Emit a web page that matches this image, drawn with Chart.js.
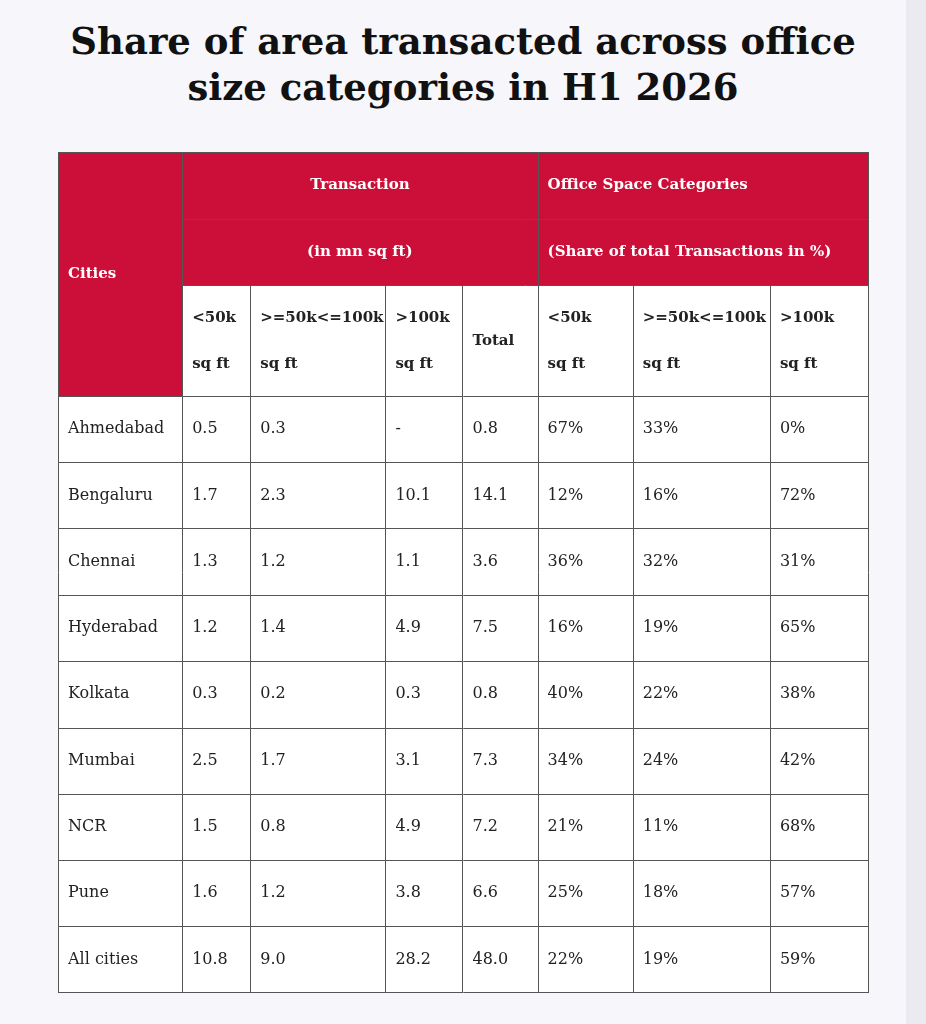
<!DOCTYPE html>
<html>
<head>
<meta charset="utf-8">
<script src="https://cdn.jsdelivr.net/npm/chart.js@4"></script>
<style>
  body { margin: 0; background: #f7f6fb; width: 926px; height: 1024px; position: relative; overflow: hidden; }
  #strip { position: absolute; left: 906px; top: 0; width: 20px; height: 1024px; background: #ebeaf0; }
  h1 { position: absolute; top: 18px; left: 0; width: 926px; margin: 0; text-align: center;
       font: bold 37px/46px "DejaVu Serif", serif; color: #111; }
  #wrap { position: absolute; left: 58px; top: 152px; width: 811px; height: 841px; }
</style>
</head>
<body>
<div id="strip"></div>
<h1>Share of area transacted across office<br>size categories in H1 2026</h1>
<div id="wrap"><canvas id="table"></canvas></div>
<script>
const cities = ["Ahmedabad", "Bengaluru", "Chennai", "Hyderabad", "Kolkata", "Mumbai", "NCR", "Pune", "All cities"];
const under50k = [0.5, 1.7, 1.3, 1.2, 0.3, 2.5, 1.5, 1.6, 10.8];
const from50to100k = [0.3, 2.3, 1.2, 1.4, 0.2, 1.7, 0.8, 1.2, 9.0];
const over100k = [null, 10.1, 1.1, 4.9, 0.3, 3.1, 4.9, 3.8, 28.2];
const totals = [0.8, 14.1, 3.6, 7.5, 0.8, 7.3, 7.2, 6.6, 48.0];
const shareUnder50k = [67, 12, 36, 16, 40, 34, 21, 25, 22];
const shareMid = [33, 16, 32, 19, 22, 24, 11, 18, 19];
const shareOver100k = [0, 72, 31, 65, 38, 42, 68, 57, 59];

// layout in table units (= px of the table box)
const colEdges = [0, 124, 192, 327, 404, 479, 574, 711, 810];
const rowEdges = [0, 67, 133, 244, 310, 376, 442, 508, 575, 641, 707, 773, 840];
const RED = "#cc0f38";
const LINE = "#555";

const tablePlugin = {
  id: "tablePlugin",
  afterDraw: (chart) => {
    const ctx = chart.ctx;
    const xs = chart.scales.x, ys = chart.scales.y;
    const X = (v) => xs.getPixelForValue(v);
    const Y = (v) => ys.getPixelForValue(v);
    const snapX = (v) => Math.min(Math.round(X(v)), chart.width - 1) + 0.5;
    const snapY = (v) => Math.min(Math.round(Y(v)), chart.height - 1) + 0.5;
    const rect = (c0, c1, r0, r1, fill) => {
      ctx.fillStyle = fill;
      ctx.fillRect(X(colEdges[c0]), Y(rowEdges[r0]), X(colEdges[c1]) - X(colEdges[c0]), Y(rowEdges[r1]) - Y(rowEdges[r0]));
    };
    const text = (s, x, y, bold, color, align) => {
      ctx.font = bold ? "bold 15px 'DejaVu Serif', serif" : "16px 'DejaVu Serif', serif";
      ctx.fillStyle = color;
      ctx.textAlign = align || "left";
      ctx.textBaseline = "middle";
      ctx.fillText(s, x, y);
    };
    const hline = (y, c0, c1) => {
      ctx.beginPath(); ctx.moveTo(X(colEdges[c0]), snapY(y)); ctx.lineTo(snapX(colEdges[c1]) + 0.5, snapY(y)); ctx.stroke();
    };
    const vline = (x, r0, r1) => {
      ctx.beginPath(); ctx.moveTo(snapX(x), Y(rowEdges[r0])); ctx.lineTo(snapX(x), snapY(rowEdges[r1]) + 0.5); ctx.stroke();
    };
    ctx.save();
    rect(0, 8, 0, rowEdges.length - 1, "#fff");
    rect(0, 1, 0, 3, RED);
    rect(1, 8, 0, 2, RED);

    ctx.strokeStyle = LINE;
    ctx.lineWidth = 1;
    hline(rowEdges[0], 0, 8);
    hline(rowEdges[1], 1, 8);
    hline(rowEdges[2], 1, 8);
    for (let r = 3; r < rowEdges.length; r++) hline(rowEdges[r], 0, 8);
    vline(colEdges[0], 0, rowEdges.length - 1);
    vline(colEdges[1], 0, rowEdges.length - 1);
    vline(colEdges[5], 0, rowEdges.length - 1);
    vline(colEdges[8], 0, rowEdges.length - 1);
    [2, 3, 4, 6, 7].forEach((c) => vline(colEdges[c], 2, rowEdges.length - 1));

    const mid = (r0, r1) => Y((rowEdges[r0] + rowEdges[r1]) / 2);
    const left = (c) => X(colEdges[c]) + 10;
    text("Cities", left(0), mid(0, 3), true, "#fff");
    text("Transaction", (X(colEdges[1]) + X(colEdges[5])) / 2, mid(0, 1), true, "#fff", "center");
    text("(in mn sq ft)", (X(colEdges[1]) + X(colEdges[5])) / 2, mid(1, 2), true, "#fff", "center");
    text("Office Space Categories", left(5), mid(0, 1), true, "#fff");
    text("(Share of total Transactions in %)", left(5), mid(1, 2), true, "#fff");

    const subTop = ["<50k", ">=50k<=100k", ">100k", null, "<50k", ">=50k<=100k", ">100k"];
    subTop.forEach((s, i) => {
      const c = i + 1;
      if (s === null) {
        text("Total", left(c), mid(2, 3), true, "#222");
      } else {
        text(s, left(c), Y(rowEdges[2] + 33), true, "#222");
        text("sq ft", left(c), Y(rowEdges[2] + 79), true, "#222");
      }
    });

    const fmt = (v) => (v === null ? "-" : v.toFixed(1));
    cities.forEach((city, i) => {
      const y = mid(3 + i, 4 + i);
      const cells = [city, fmt(under50k[i]), fmt(from50to100k[i]), fmt(over100k[i]), fmt(totals[i]),
        shareUnder50k[i] + "%", shareMid[i] + "%", shareOver100k[i] + "%"];
      cells.forEach((s, c) => text(s, left(c), y, false, "#222"));
    });
    ctx.restore();
  },
};

new Chart(document.getElementById("table"), {
  type: "scatter",
  data: { datasets: [{ data: [] }] },
  options: {
    responsive: true,
    maintainAspectRatio: false,
    animation: false,
    layout: { padding: 0 },
    plugins: { legend: { display: false }, tooltip: { enabled: false } },
    scales: {
      x: { type: "linear", min: 0, max: 810, display: false },
      y: { type: "linear", min: 0, max: 840, reverse: true, display: false },
    },
  },
  plugins: [tablePlugin],
});
</script>
</body>
</html>
